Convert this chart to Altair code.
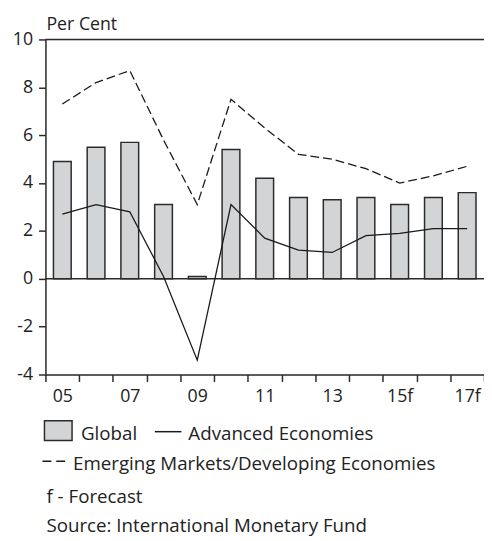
import altair as alt
import pandas as pd

years = ["05", "06", "07", "08", "09", "10", "11", "12", "13", "14", "15f", "16f", "17f"]
shown_labels = ["05", "07", "09", "11", "13", "15f", "17f"]
global_growth = [4.9, 5.5, 5.7, 3.1, 0.1, 5.4, 4.2, 3.4, 3.3, 3.4, 3.1, 3.4, 3.6]
advanced = [2.7, 3.1, 2.8, 0.1, -3.4, 3.1, 1.7, 1.2, 1.1, 1.8, 1.9, 2.1, 2.1]
emerging = [7.3, 8.2, 8.7, 5.8, 3.1, 7.5, 6.3, 5.2, 5.0, 4.6, 4.0, 4.3, 4.7]
y_ticks = [-4, -2, 0, 2, 4, 6, 8, 10]

df = pd.DataFrame({"year": years, "Global": global_growth,
                   "Advanced": advanced, "Emerging": emerging})

FONT = "Open Sans"
FS = 18
LFS = 19
INK = "#2b2b2b"

label_expr = "indexof([" + ",".join("'%s'" % s for s in shown_labels) + "], datum.value) >= 0 ? datum.value : ''"

x = alt.X("year:N", sort=years,
          scale=alt.Scale(paddingInner=0, paddingOuter=0),
          axis=alt.Axis(title=None, labelAngle=0, labelExpr=label_expr,
                        tickBand="extent", tickSize=7, tickColor=INK, tickWidth=1.5,
                        domainColor=INK, domainWidth=1.5,
                        labelFont=FONT, labelFontSize=FS, labelColor="#222",
                        labelPadding=6, grid=False))
yscale = alt.Scale(domain=[-4, 10], nice=False, zero=False)
yaxis = alt.Axis(title=None, values=y_ticks, labelExpr="'' + datum.value",
                 tickSize=7, tickColor=INK, tickWidth=1.5,
                 domainColor=INK, domainWidth=1.5, labelFont=FONT, labelFontSize=FS,
                 labelColor="#222", labelPadding=6, grid=False)

base = alt.Chart(df)

bars = base.mark_bar(size=18, fill="#d3d4d6", stroke=INK, strokeWidth=1.5).encode(
    x=x, y=alt.Y("Global:Q", scale=yscale, axis=yaxis))

adv_line = base.mark_line(color="#1a1a1a", strokeWidth=1.3).encode(
    x=alt.X("year:N", sort=years), y=alt.Y("Advanced:Q"))

emg_line = base.mark_line(color="#1a1a1a", strokeWidth=1.3, strokeDash=[9, 4]).encode(
    x=alt.X("year:N", sort=years), y=alt.Y("Emerging:Q"))

one = pd.DataFrame({"v": [0]})
zero_rule = alt.Chart(one).mark_rule(color=INK, strokeWidth=1.5).encode(y=alt.datum(0))
top_rule = alt.Chart(one).mark_rule(color=INK, strokeWidth=1.5).encode(y=alt.datum(10))


def text_layer(t, xv, yv, size=LFS):
    return alt.Chart(pd.DataFrame({"t": [t]})).mark_text(
        font=FONT, fontSize=size, color="#222", align="left", baseline="alphabetic"
    ).encode(text="t:N", x=alt.value(xv), y=alt.value(yv))


title_txt = text_layer("Per Cent", 1, -10, FS)

swatch = alt.Chart(one).mark_rect(fill="#d3d4d6", stroke=INK, strokeWidth=1.5).encode(
    x=alt.value(-1), x2=alt.value(27), y=alt.value(387), y2=alt.value(407))
g_txt = text_layer("Global", 36, 406)
adv_sym = alt.Chart(one).mark_rule(color="#1a1a1a", strokeWidth=1.5).encode(
    x=alt.value(111), x2=alt.value(138), y=alt.value(398))
adv_txt = text_layer("Advanced Economies", 145, 406)
emg_sym = alt.Chart(one).mark_rule(color="#1a1a1a", strokeWidth=1.5, strokeDash=[9, 5]).encode(
    x=alt.value(-3), x2=alt.value(20), y=alt.value(428))
emg_txt = text_layer("Emerging Markets/Developing Economies", 28, 437)
f_txt = text_layer("f - Forecast", 1, 470)
src_txt = text_layer("Source: International Monetary Fund", 1, 500)

chart = alt.layer(
    bars, zero_rule, top_rule, adv_line, emg_line, title_txt,
    swatch, g_txt, adv_sym, adv_txt, emg_sym, emg_txt, f_txt, src_txt
).properties(
    width=445, height=340,
    autosize=alt.AutoSizeParams(type="none"),
    padding={"left": 38, "top": 28, "right": 0, "bottom": 164},
).configure_view(stroke=None).configure(background="white")

chart.save("out.html", embed_options={"renderer": "svg", "actions": False})
